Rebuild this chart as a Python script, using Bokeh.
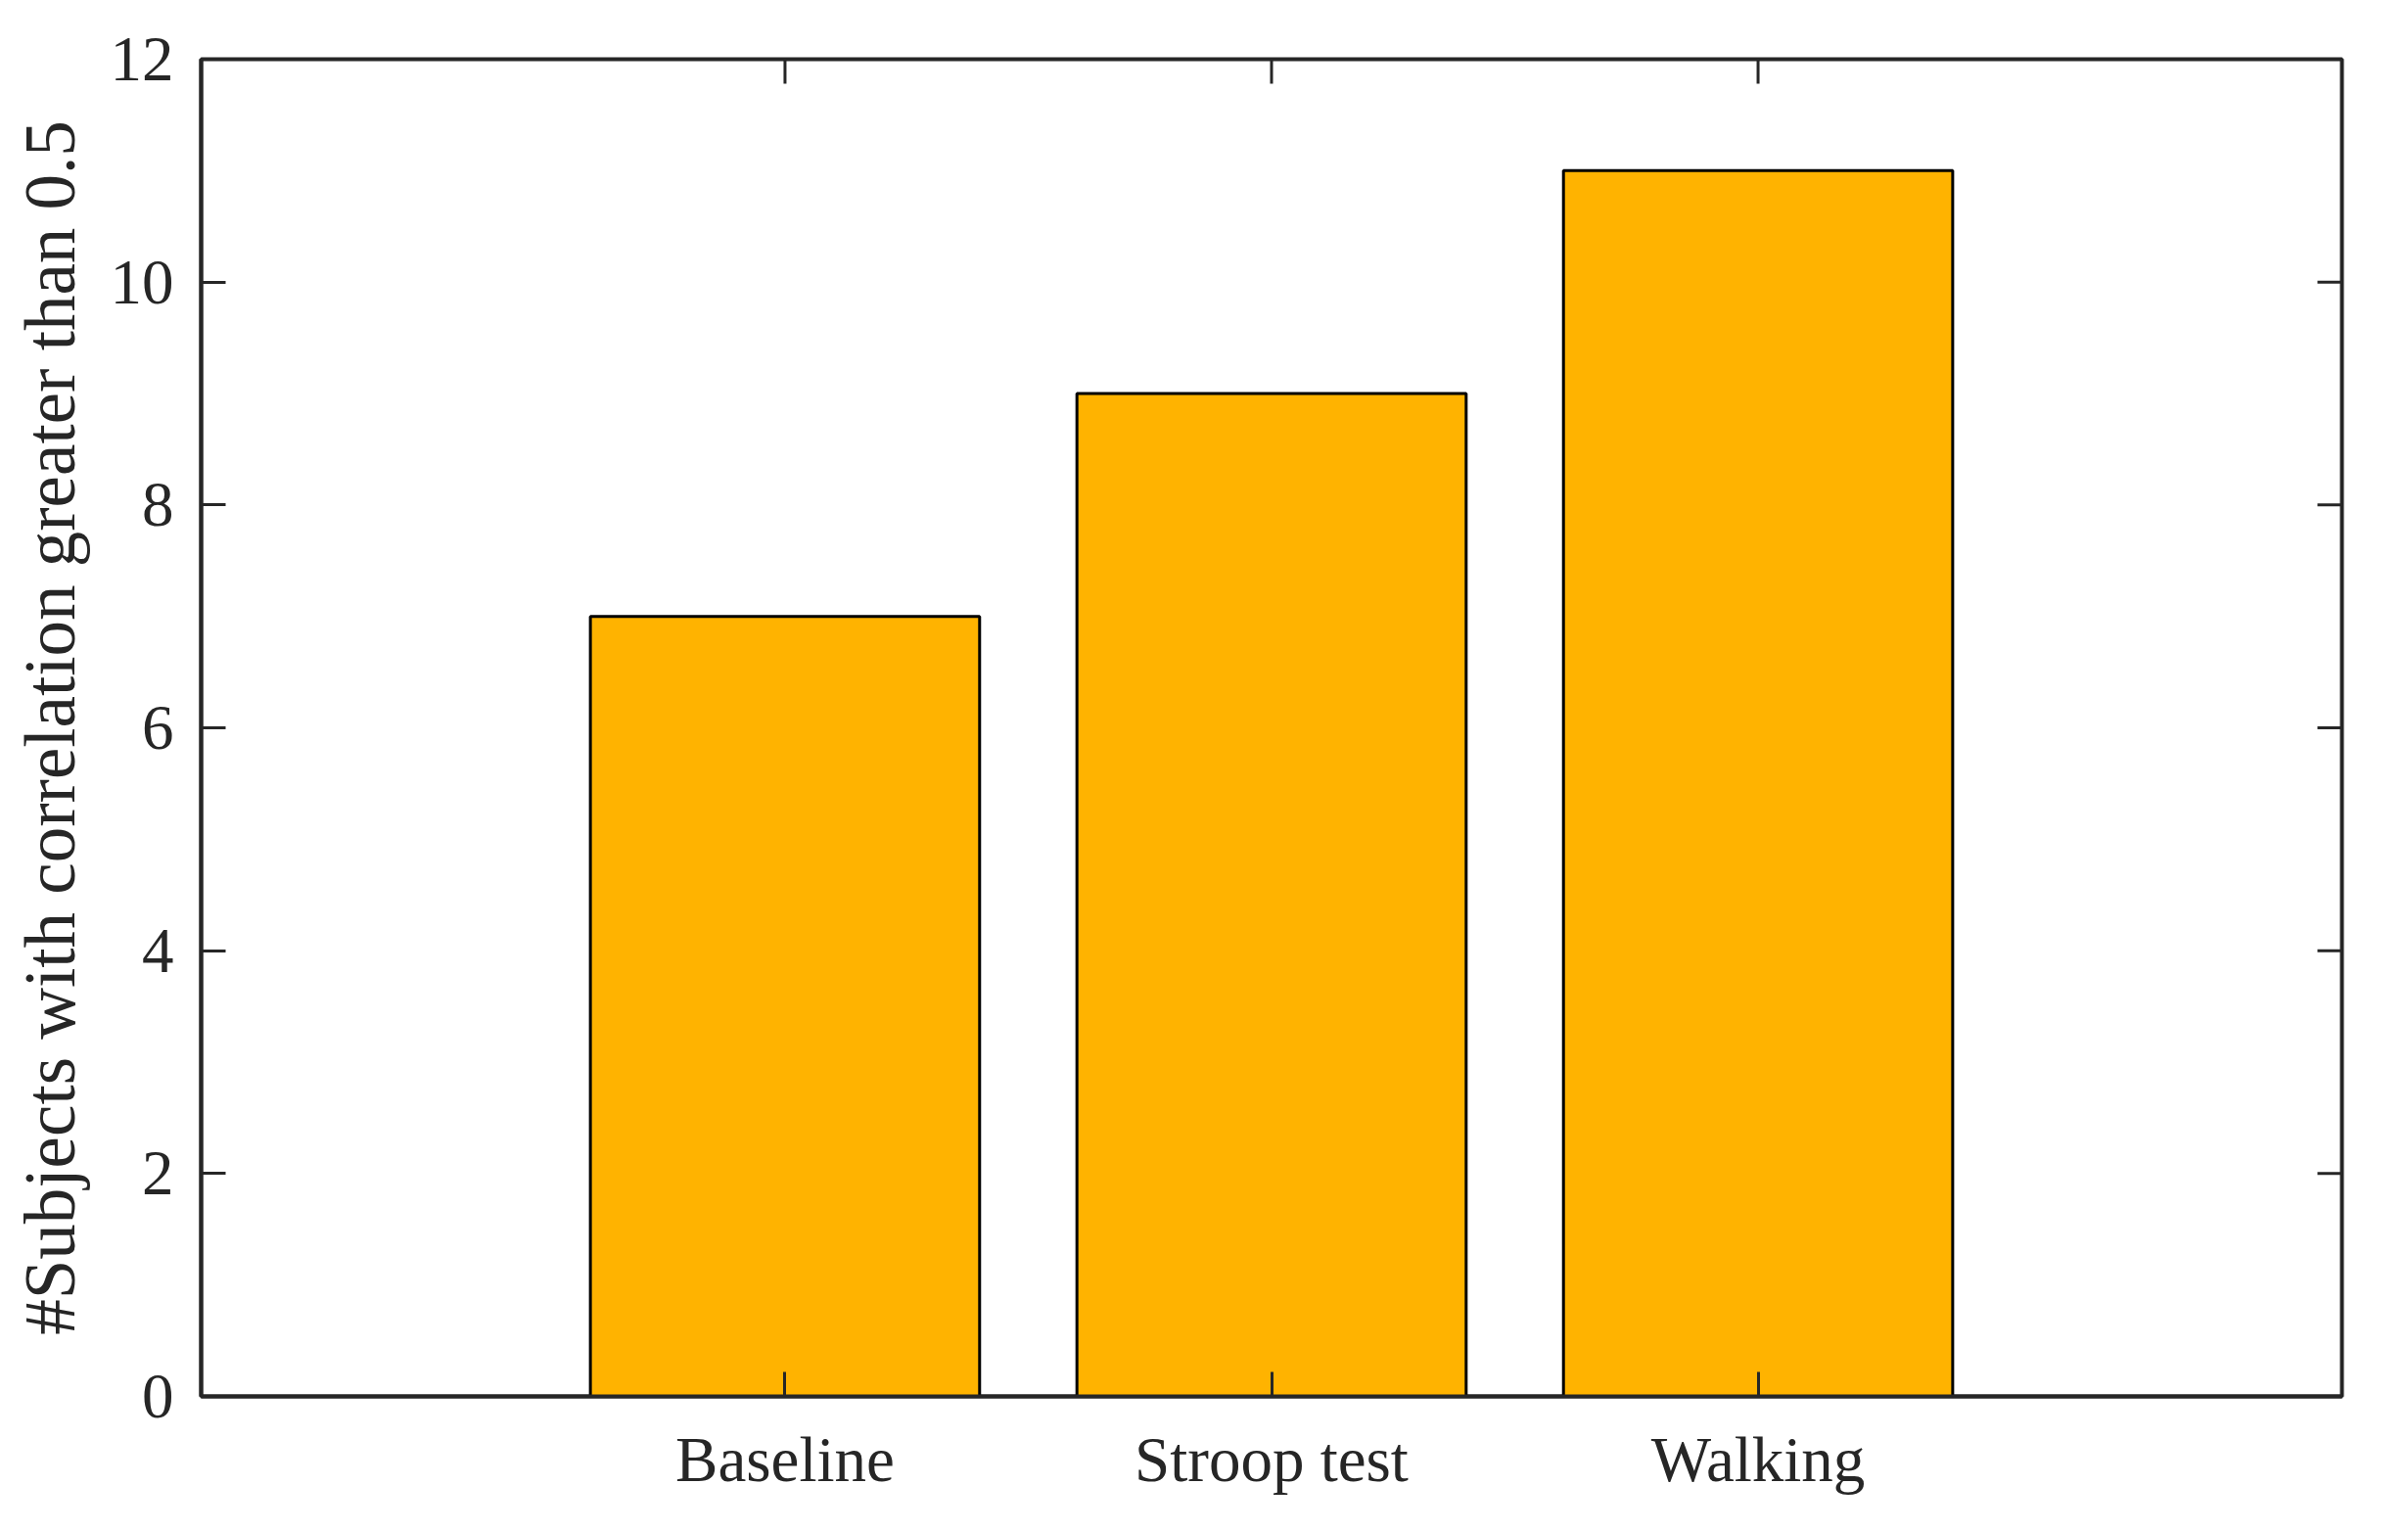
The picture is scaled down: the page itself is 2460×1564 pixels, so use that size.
import math
from bokeh.plotting import figure
from bokeh.models import Range1d, FixedTicker, ColumnDataSource
from bokeh.embed import file_html
from bokeh.resources import INLINE

categories = ["Baseline", "Stroop test", "Walking"]
positions = [1, 2, 3]
counts = [7, 9, 11]
y_ticks = [0, 2, 4, 6, 8, 10, 12]
x_lim = (-0.2, 4.2)
y_lim = (0, 12)

FONT = "Liberation Serif"
AX = "#262626"

src = ColumnDataSource(data=dict(x=positions, top=counts, cat=categories))

p = figure(width=2444, height=1548, output_backend="svg", toolbar_location=None,
           x_range=Range1d(*x_lim), y_range=Range1d(*y_lim),
           min_border_left=205, min_border_right=52, min_border_top=60, min_border_bottom=122,
           background_fill_color="white", border_fill_color="white")
p.xgrid.visible = False
p.ygrid.visible = False
p.outline_line_color = AX
p.outline_line_width = 4

p.vbar(x="x", top="top", width=0.8, bottom=0, source=src,
       fill_color="#FFB300", line_color="black", line_width=3)

# inward ticks on the right and top edges (MATLAB box style); clipped to the frame
p.scatter(x=[x_lim[1]] * len(y_ticks), y=y_ticks, marker="dash", size=50,
          line_color=AX, line_width=3)
p.scatter(x=positions, y=[y_lim[1]] * len(positions), marker="dash", size=50,
          angle=math.pi / 2, line_color=AX, line_width=3)

def style(ax):
    ax.axis_line_color = AX
    ax.axis_line_width = 4
    ax.major_tick_line_color = AX
    ax.major_tick_line_width = 3
    ax.major_tick_in = 25
    ax.major_tick_out = 0
    ax.minor_tick_line_color = None
    ax.major_label_text_font = FONT
    ax.major_label_text_color = AX
    ax.major_label_text_font_size = "65px"
    ax.axis_label_text_font = FONT
    ax.axis_label_text_font_style = "normal"
    ax.axis_label_text_color = AX
    ax.axis_label_text_font_size = "73px"

xa = p.xaxis[0]
xa.ticker = FixedTicker(ticks=positions)
xa.major_label_overrides = {pos: c for pos, c in zip(positions, categories)}
style(xa)
xa.major_label_standoff = 28

ya = p.yaxis[0]
ya.ticker = FixedTicker(ticks=y_ticks)
style(ya)
ya.major_label_standoff = 28
ya.axis_label = "#Subjects with correlation greater than 0.5"
ya.axis_label_standoff = 18

open("out.html", "w").write(file_html(p, INLINE))
